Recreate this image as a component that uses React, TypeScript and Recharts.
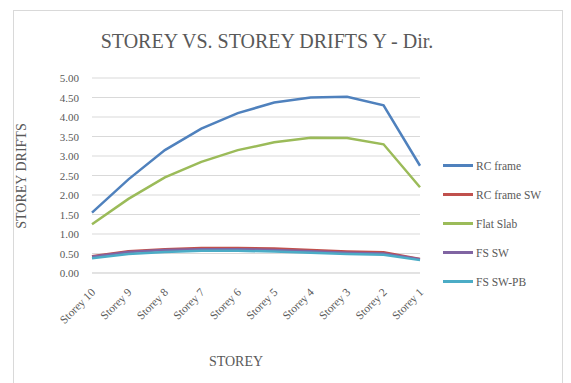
import React from 'react';
import { LineChart, Line, XAxis, YAxis, CartesianGrid } from 'recharts';

// Storey drift per storey, Y direction
const storeys = ['Storey 10', 'Storey 9', 'Storey 8', 'Storey 7', 'Storey 6', 'Storey 5', 'Storey 4', 'Storey 3', 'Storey 2', 'Storey 1'];
const rcFrame = [1.55, 2.4, 3.15, 3.7, 4.1, 4.37, 4.5, 4.52, 4.3, 2.75];
const rcFrameSW = [0.43, 0.56, 0.61, 0.64, 0.64, 0.63, 0.59, 0.55, 0.53, 0.36];
const flatSlab = [1.25, 1.9, 2.45, 2.85, 3.15, 3.35, 3.47, 3.46, 3.3, 2.2];
const fsSW = [0.42, 0.54, 0.59, 0.61, 0.61, 0.59, 0.56, 0.52, 0.5, 0.35];
const fsSWPB = [0.38, 0.49, 0.54, 0.57, 0.57, 0.55, 0.52, 0.49, 0.47, 0.33];
const yTicks = [0, 0.5, 1, 1.5, 2, 2.5, 3, 3.5, 4, 4.5, 5];

const series = [
  { key: 'rcFrame', name: 'RC frame', color: '#4F81BD', values: rcFrame },
  { key: 'rcFrameSW', name: 'RC frame SW', color: '#C0504D', values: rcFrameSW },
  { key: 'flatSlab', name: 'Flat Slab', color: '#9BBB59', values: flatSlab },
  { key: 'fsSW', name: 'FS SW', color: '#8064A2', values: fsSW },
  { key: 'fsSWPB', name: 'FS SW-PB', color: '#4BACC6', values: fsSWPB },
];

const data = storeys.map((s, i) => {
  const row: Record<string, string | number> = { storey: s };
  series.forEach((se) => { row[se.key] = se.values[i]; });
  return row;
});

const FONT = '"Liberation Serif", "Times New Roman", serif';
const GREY = '#595959';

function StoreyTick({ x, y, payload }: any) {
  return (
    <text
      x={x + 4}
      y={y + 12}
      textAnchor="end"
      transform={`rotate(-45, ${x + 4}, ${y + 12})`}
      fontFamily={FONT}
      fontSize={11.5}
      fill={GREY}
    >
      {payload.value}
    </text>
  );
}

function DriftTick({ x, y, payload }: any) {
  return (
    <text x={x} y={y} dy={4} textAnchor="end" fontFamily={FONT} fontSize={11} fill={GREY}>
      {Number(payload.value).toFixed(2)}
    </text>
  );
}

// leyenda a la derecha, como en Excel
function LegendBox() {
  return (
    <div style={{ position: 'absolute', left: 443, top: 151, fontFamily: FONT, fontSize: 11.5, color: GREY }}>
      {series.map((se) => (
        <div key={se.key} style={{ display: 'flex', alignItems: 'center', height: 29 }}>
          <span style={{ display: 'inline-block', width: 30, height: 3, background: se.color, marginRight: 3 }} />
          <span>{se.name}</span>
        </div>
      ))}
    </div>
  );
}

export default function App() {
  return (
    <div style={{ position: 'absolute', left: 0, top: 0, width: 571, height: 383, background: '#fff', overflow: 'hidden' }}>
      <div style={{ position: 'absolute', left: 13, top: 10, width: 548, height: 390, border: '1px solid #d9d9d9' }} />
      <div style={{ position: 'absolute', left: 0, width: 534, top: 30, textAlign: 'center', fontFamily: FONT, fontSize: 20, color: GREY }}>
        STOREY VS. STOREY DRIFTS Y - Dir.
      </div>
      <div style={{ position: 'absolute', left: 22, top: 176, transform: 'translate(-50%, -50%) rotate(-90deg)', whiteSpace: 'nowrap', fontFamily: FONT, fontSize: 14, color: GREY }}>
        STOREY DRIFTS
      </div>
      <div style={{ position: 'absolute', left: 236, top: 362, transform: 'translate(-50%, -50%)', fontFamily: FONT, fontSize: 14, color: GREY }}>
        STOREY
      </div>
      <div style={{ position: 'absolute', left: 0, top: 0 }}>
        <LineChart width={571} height={383} data={data} margin={{ top: 78, right: 151, bottom: 40, left: 52 }}>
          <CartesianGrid horizontal vertical={false} stroke="#d9d9d9" />
          <XAxis dataKey="storey" axisLine={{ stroke: '#d9d9d9' }} tickLine={false} interval={0} height={70} tick={<StoreyTick />} />
          <YAxis
            domain={[0, 5]}
            ticks={yTicks}
            interval={0}
            width={40}
            axisLine={false}
            tickLine={false}
            tickSize={0}
            tickMargin={13}
            tick={<DriftTick />}
          />
          {series.map((se) => (
            <Line
              key={se.key}
              type="linear"
              dataKey={se.key}
              name={se.name}
              stroke={se.color}
              strokeWidth={2.5}
              dot={false}
              isAnimationActive={false}
            />
          ))}
        </LineChart>
      </div>
      <LegendBox />
    </div>
  );
}
